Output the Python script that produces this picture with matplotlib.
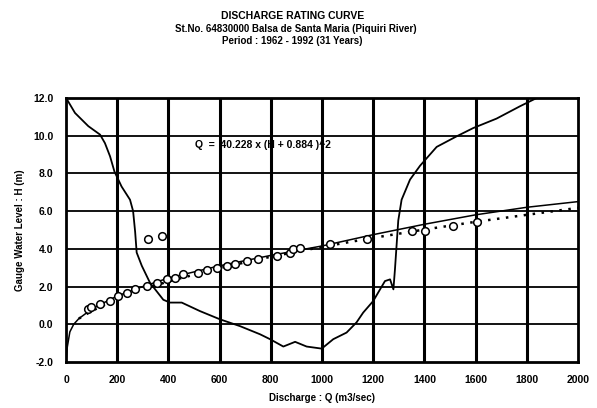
import matplotlib
matplotlib.use("Agg")
import matplotlib.pyplot as plt

plt.rcParams['font.family'] = ['Liberation Sans', 'DejaVu Sans']

# observed gauging points (Q m3/s, H m)
obs_q = [87, 98, 133, 172, 204, 237, 270, 315, 354, 393, 426, 458, 517, 549,
         588, 627, 660, 706, 751, 823, 875, 888, 914, 1031, 1174, 1350, 1402,
         1513, 1604, 321, 374]
obs_h = [0.80, 0.90, 1.06, 1.23, 1.50, 1.68, 1.85, 2.03, 2.20, 2.38, 2.47,
         2.65, 2.73, 2.90, 3.00, 3.09, 3.17, 3.35, 3.47, 3.61, 3.80, 3.97,
         4.06, 4.27, 4.50, 4.94, 4.94, 5.20, 5.40, 4.50, 4.67]

# fitted rating curve  Q = 40.228 x (H + 0.884)^2  (dotted)
fit_q = [50, 100, 200, 300, 400, 600, 800, 1000, 1200, 1400, 1600, 1800, 2000]
fit_h = [0.30, 0.70, 1.35, 1.85, 2.27, 2.98, 3.58, 4.10, 4.58, 5.02, 5.43,
         5.80, 6.17]

# solid smooth curve
sm_q = [0, 5, 15, 30, 50, 80, 120, 200, 300, 400, 600, 800, 1000, 1200, 1400,
        1600, 1800, 2000]
sm_h = [-1.9, -1.2, -0.4, 0.0, 0.3, 0.6, 0.95, 1.5, 2.0, 2.45, 3.1, 3.65,
        4.15, 4.75, 5.3, 5.8, 6.2, 6.5]

# wavy solid line
wv_q = [0, 35, 87, 133, 152, 172, 189, 217, 250, 262, 270, 276, 296, 328,
        380, 406, 452, 523, 602, 680, 758, 797, 849, 895, 940, 999, 1044,
        1096, 1135, 1161, 1200, 1246, 1266, 1279, 1285, 1298, 1311, 1344,
        1383, 1448, 1526, 1591, 1682, 1773, 1840]
wv_h = [12.0, 11.2, 10.5, 10.05, 9.6, 8.9, 8.1, 7.3, 6.6, 6.0, 4.9, 3.8, 3.1,
        2.2, 1.3, 1.15, 1.15, 0.7, 0.26, -0.1, -0.53, -0.79, -1.18, -0.93,
        -1.18, -1.29, -0.79, -0.44, 0.1, 0.62, 1.23, 2.29, 2.38, 1.85, 2.9,
        5.5, 6.6, 7.67, 8.4, 9.4, 9.96, 10.4, 10.9, 11.55, 12.0]

x_ticks = [0, 200, 400, 600, 800, 1000, 1200, 1400, 1600, 1800, 2000]
y_ticks = [-2, 0, 2, 4, 6, 8, 10, 12]

fig = plt.figure(figsize=(5.97, 4.08), dpi=100)
ax = fig.add_axes([0.1106, 0.1127, 0.8575, 0.6475])

ax.plot(wv_q, wv_h, color='black', lw=1.3, zorder=3)
ax.plot(sm_q, sm_h, color='black', lw=1.1, zorder=3)
ax.plot(fit_q, fit_h, color='black', lw=1.8, linestyle=(0, (1, 2.6)), zorder=3)
ax.plot(obs_q, obs_h, linestyle='none', marker='o', markersize=5.5,
        markerfacecolor='white', markeredgecolor='black', markeredgewidth=1.1,
        zorder=4)

ax.set_xlim(0, 2000)
ax.set_ylim(-2, 12)
ax.set_xticks(x_ticks)
ax.set_yticks(y_ticks)
ax.set_xticklabels([str(v) for v in x_ticks], fontsize=7.5, fontweight='bold')
ax.set_yticklabels([f"{v:.1f}" for v in y_ticks], fontsize=7.5, fontweight='bold')
ax.tick_params(length=0, pad=9)

for v in x_ticks[1:-1]:
    ax.axvline(v, color='black', lw=2.2, zorder=1)
for v in y_ticks[1:-1]:
    ax.axhline(v, color='black', lw=1.3, zorder=1)
for s in ax.spines.values():
    s.set_linewidth(2.0)

ax.text(505, 9.5, "Q  =  40.228 x (H + 0.884 )^2", fontsize=7.5,
        fontweight='bold', va='center', ha='left')

ax.set_xlabel("Discharge : Q (m3/sec)", fontsize=7, fontweight='bold', labelpad=6)
ax.set_ylabel("Gauge Water Level : H (m)", fontsize=7, fontweight='bold', labelpad=6)

fig.text(0.49, 0.96, "DISCHARGE RATING CURVE", ha='center', va='center',
         fontsize=7.5, fontweight='bold')
fig.text(0.495, 0.93, "St.No. 64830000 Balsa de Santa Maria (Piquiri River)",
         ha='center', va='center', fontsize=7, fontweight='bold')
fig.text(0.49, 0.90, "Period : 1962 - 1992 (31 Years)", ha='center',
         va='center', fontsize=7, fontweight='bold')

fig.savefig("out.png", dpi=100)
